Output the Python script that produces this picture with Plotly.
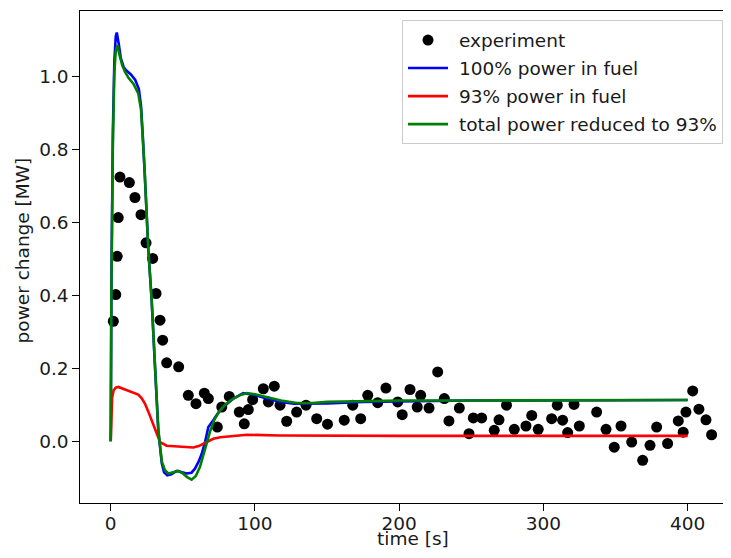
import plotly.graph_objects as go

# experiment data (time [s], power change [MW])
exp_t = [1.8, 3.5, 4.5, 5.2, 6.4, 12.9, 16.8, 21.0, 24.5, 29.1, 31.4, 34.2, 36.0, 38.8,
         47.1, 53.8, 59.1, 64.9, 67.7, 73.9, 77.0, 82.2, 89.1, 92.6, 95.4, 98.4, 105.8,
         109.3, 113.4, 117.4, 122.0, 128.9, 135.4, 142.8, 150.3, 161.9, 167.8, 173.3,
         178.2, 185.1, 190.8, 199.0, 202.1, 207.5, 212.5, 214.9, 220.7, 226.7, 231.3,
         234.5, 241.7, 248.4, 251.4, 257.2, 265.9, 269.2, 274.4, 279.8, 287.9, 291.9,
         296.4, 305.7, 309.6, 313.3, 316.8, 321.2, 324.9, 336.9, 343.4, 349.1, 353.8,
         361.2, 368.8, 373.9, 378.5, 386.1, 393.5, 396.9, 398.8, 403.5, 407.8, 412.7, 416.6]
exp_v = [0.329, 0.402, 0.507, 0.613, 0.724, 0.709, 0.668, 0.621, 0.544, 0.501, 0.405, 0.332,
         0.277, 0.215, 0.204, 0.126, 0.103, 0.132, 0.117, 0.039, 0.094, 0.123, 0.080, 0.048,
         0.087, 0.114, 0.144, 0.108, 0.151, 0.099, 0.055, 0.080, 0.099, 0.062, 0.047, 0.058,
         0.099, 0.062, 0.126, 0.106, 0.146, 0.108, 0.073, 0.142, 0.094, 0.126, 0.091, 0.190,
         0.117, 0.056, 0.091, 0.021, 0.064, 0.064, 0.030, 0.059, 0.099, 0.033, 0.042, 0.071,
         0.033, 0.062, 0.099, 0.058, 0.024, 0.101, 0.042, 0.080, 0.033, -0.016, 0.042,
         -0.002, -0.052, -0.011, 0.039, -0.006, 0.056, 0.025, 0.080, 0.138, 0.088, 0.059, 0.018]

# 100% power in fuel
blue_t = [0, 0.5, 1.5, 2.5, 3.5, 4.2, 5.5, 7, 9, 11, 14, 17, 19.5, 21, 22.2, 23.5, 24.5, 26,
          28.4, 30.7, 33, 35.4, 37, 39.2, 42, 45.8, 49, 52.7, 56, 58.4, 61, 63.1, 65.5, 67.7,
          71.1, 74.5, 78.1, 85, 91.9, 100, 108, 118, 127, 140, 150, 175, 200, 250, 300, 350, 400]
blue_v = [0, 0.45, 0.85, 1.04, 1.11, 1.12, 1.09, 1.05, 1.025, 1.015, 1.005, 0.99, 0.965, 0.92,
          0.84, 0.75, 0.66, 0.53, 0.386, 0.204, 0.03, -0.06, -0.085, -0.093, -0.09, -0.081,
          -0.085, -0.088, -0.086, -0.075, -0.055, -0.034, 0.0, 0.039, 0.058, 0.078, 0.094,
          0.117, 0.132, 0.127, 0.117, 0.108, 0.103, 0.103, 0.104, 0.108, 0.110, 0.112, 0.112,
          0.113, 0.113]

# 93% power in fuel
red_t = [0, 0.4, 1, 2, 3.5, 5.3, 8, 10.5, 13.4, 17, 19.1, 21.5, 23.8, 26, 28.4, 31, 34.2,
         38.8, 43, 48, 53, 57.3, 61, 64.2, 67.5, 71.1, 76, 82.7, 94.3, 117, 150, 200, 250,
         300, 350, 400]
red_v = [0, 0.08, 0.12, 0.14, 0.147, 0.149, 0.145, 0.14, 0.135, 0.131, 0.128, 0.118, 0.103,
         0.082, 0.058, 0.027, -0.002, -0.012, -0.013, -0.013, -0.015, -0.017, -0.013, -0.006,
         0.001, 0.007, 0.011, 0.014, 0.018, 0.016, 0.015, 0.015, 0.015, 0.015, 0.015, 0.015]

# total power reduced to 93%
green_t = [0, 0.5, 1.5, 2.5, 3.5, 4.6, 6, 8, 9.9, 12.5, 15.7, 19.1, 21, 22.2, 23.5, 24.5, 26,
           28.4, 30.7, 33, 35.4, 37.6, 40, 43.5, 46.9, 50, 53, 56.1, 59, 61.9, 65, 68.8, 72,
           75.8, 80, 85, 90, 94.3, 100, 108, 118, 129, 140, 150, 175, 200, 250, 300, 350, 400]
green_v = [0, 0.43, 0.82, 1.01, 1.07, 1.085, 1.06, 1.03, 1.012, 0.995, 0.98, 0.953, 0.91,
           0.835, 0.745, 0.655, 0.53, 0.386, 0.204, 0.03, -0.055, -0.079, -0.088, -0.084,
           -0.081, -0.088, -0.098, -0.105, -0.095, -0.07, -0.025, 0.026, 0.06, 0.085, 0.103,
           0.117, 0.127, 0.132, 0.129, 0.121, 0.112, 0.105, 0.105, 0.108, 0.110, 0.112, 0.112,
           0.113, 0.113, 0.113]

x_ticks = [0, 100, 200, 300, 400]
y_ticks = [0.0, 0.2, 0.4, 0.6, 0.8, 1.0]

FONT = "DejaVu Sans"
FS = 18.5
TXT = "#1a1a1a"
SP = "\u00a0"

# page has an 8px body margin, so the figure is 715x542 and offsets are page-8
W, H = 715, 542
L, T, B = 72, 2.5, 47.3
PW = W - L
PH = H - T - B

fig = go.Figure()
fig.add_trace(go.Scatter(x=exp_t, y=exp_v, mode="markers", name=SP + "experiment",
                         marker=dict(color="black", size=11), legendgroup="a"))
fig.add_trace(go.Scatter(x=blue_t, y=blue_v, mode="lines", name=SP + "100% power in fuel",
                         line=dict(color="#0000ff", width=2.6), legendgroup="b"))
fig.add_trace(go.Scatter(x=red_t, y=red_v, mode="lines", name=SP + "93% power in fuel",
                         line=dict(color="#ff0000", width=2.6), legendgroup="c"))
fig.add_trace(go.Scatter(x=green_t, y=green_v, mode="lines",
                         name=SP + "total power reduced to 93%",
                         line=dict(color="#008000", width=2.6), legendgroup="d"))

fig.update_layout(
    width=W, height=H,
    margin=dict(l=L, r=0, t=T, b=B),
    paper_bgcolor="white", plot_bgcolor="white",
    font=dict(family=FONT, size=FS, color=TXT),
    showlegend=True,
    legend=dict(x=1.0, y=(H - B - 12) / PH, xanchor="right", yanchor="top",
                bgcolor="rgba(255,255,255,0.8)", bordercolor="#cccccc", borderwidth=1,
                font=dict(family=FONT, size=FS, color=TXT), tracegroupgap=1,
                itemwidth=40),
    xaxis=dict(range=[-21.3, 424.5], tickvals=x_ticks, ticktext=[str(v) for v in x_ticks],
               showgrid=False, zeroline=False, showline=True, linecolor="black", linewidth=1.3,
               mirror=True, ticks="outside", ticklen=6.5, tickcolor="black", tickwidth=1.3,
               ticklabelstandoff=-3,
               tickfont=dict(family=FONT, size=FS, color=TXT)),
    yaxis=dict(range=[-0.169, 1.179], tickvals=y_ticks, ticktext=[f"{v:.1f}" for v in y_ticks],
               showgrid=False, zeroline=False, showline=True, linecolor="black", linewidth=1.3,
               mirror=False, ticks="outside", ticklen=6.5, tickcolor="black", tickwidth=1.3,
               tickfont=dict(family=FONT, size=FS, color=TXT)),
    annotations=[
        dict(text="time [s]", xref="paper", yref="paper", x=(405 - L) / PW,
             y=-B / PH, xanchor="center", yanchor="bottom", showarrow=False,
             borderpad=0,
             font=dict(family=FONT, size=FS, color=TXT)),
        dict(text="power change [MW]", xref="paper", yref="paper", x=(14 - L) / PW,
             y=(H - B - 242) / PH, xanchor="center", yanchor="middle", textangle=-90,
             showarrow=False, font=dict(family=FONT, size=FS, color=TXT)),
    ],
)

fig.write_html("out.html")
